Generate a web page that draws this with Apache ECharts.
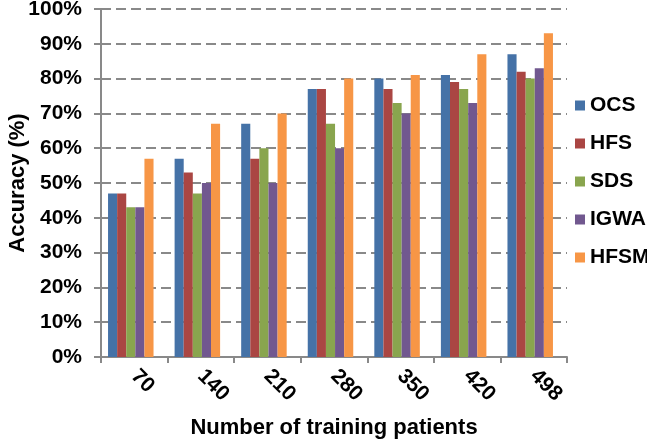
<!DOCTYPE html>
<html><head><meta charset="utf-8">
<script src="https://cdn.jsdelivr.net/npm/echarts@6/dist/echarts.min.js"></script>
<style>html,body{margin:0;padding:0;background:#fff}#c{width:647px;height:446px}</style>
</head><body><div id="c"></div>
<script>
var categories = ['70','140','210','280','350','420','498'];
var OCS  = [47,57,67,77,80,81,87];
var HFS  = [47,53,57,77,77,79,82];
var SDS  = [43,47,60,67,73,77,80];
var IGWA = [43,50,50,60,70,73,83];
var HFSM = [57,67,70,80,81,87,93];
var seriesNames = ['OCS','HFS','SDS','IGWA','HFSM'];
var seriesData = [OCS,HFS,SDS,IGWA,HFSM];
var colors = ['#4572A7','#AA4643','#89A54E','#71588F','#F79646'];
var yTicks = [0,10,20,30,40,50,60,70,80,90,100];

var chart = echarts.init(document.getElementById('c'));
var font = 'Arial, "Liberation Sans", sans-serif';
var series = seriesNames.map(function(n,i){
  return {name:n,type:'bar',data:seriesData[i],barGap:'0%',barWidth:9.1,
    itemStyle:{color:colors[i]}};
});
// empty spacer slot: the original places each group slightly left of the category centre
series.push({name:'_spacer',type:'bar',data:[],barGap:'0%',barWidth:7,silent:true});
chart.setOption({
  animation:false,
  color:colors,
  grid:{left:101,right:80,top:9,bottom:89,containLabel:false,outerBoundsMode:'none'},
  legend:{
    orient:'vertical', left:570, top:90, itemGap:17, itemWidth:10, itemHeight:10,
    icon:'rect',
    textStyle:{fontFamily:font,fontWeight:'bold',fontSize:21,color:'#000',padding:[0,0,0,0]},
    data:seriesNames
  },
  xAxis:{
    type:'category', data:categories,
    name:'Number of training patients', nameLocation:'middle', nameGap:60, nameMoveOverlap:false,
    nameTextStyle:{fontFamily:font,fontWeight:'bold',fontSize:22,color:'#000'},
    axisLine:{lineStyle:{color:'#898989',width:2}},
    axisTick:{show:true,alignWithLabel:false,length:6,lineStyle:{color:'#898989',width:2}},
    axisLabel:{rotate:-45,margin:16,fontFamily:font,fontWeight:'bold',fontSize:21,color:'#000'}
  },
  yAxis:{
    type:'value', min:0, max:100, interval:10,
    name:'Accuracy (%)', nameLocation:'middle', nameGap:72, nameMoveOverlap:false,
    nameTextStyle:{fontFamily:font,fontWeight:'bold',fontSize:22,color:'#000'},
    axisLine:{show:true,lineStyle:{color:'#898989',width:2}},
    axisTick:{show:true,length:7,lineStyle:{color:'#898989',width:2}},
    axisLabel:{margin:19,fontFamily:font,fontWeight:'bold',fontSize:21,color:'#000',
      formatter:function(v){return yTicks.indexOf(v)>=0? v+'%':'';}},
    splitLine:{show:true,lineStyle:{color:'#898989',width:2,type:[10,5]}}
  },
  series:series
});
</script></body></html>
